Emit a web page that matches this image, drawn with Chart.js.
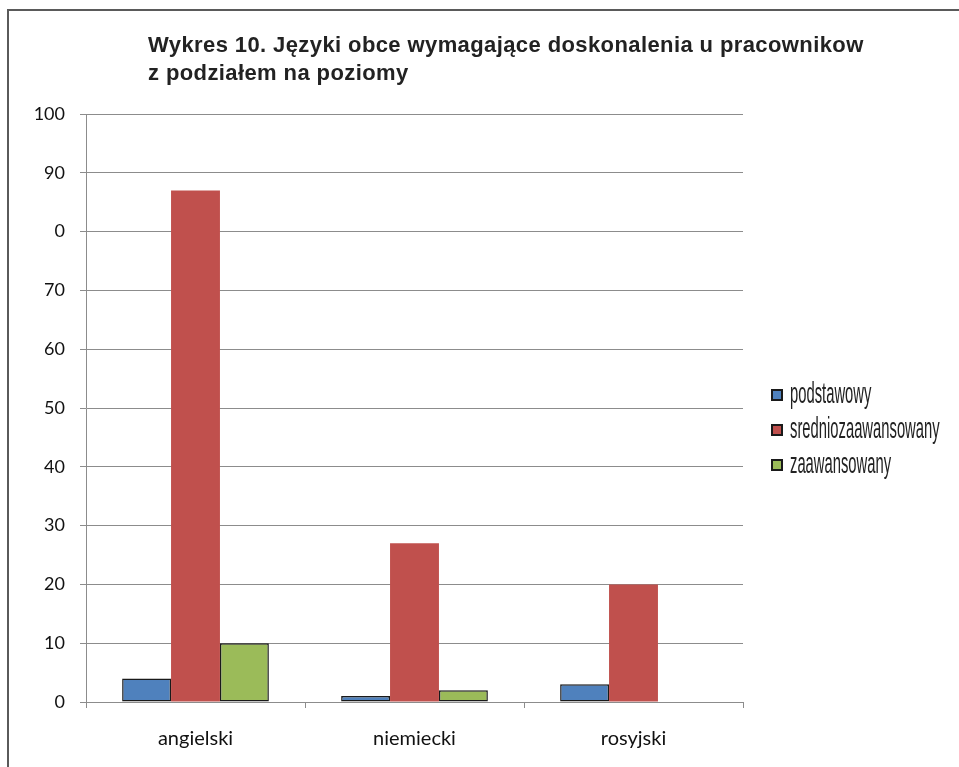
<!DOCTYPE html>
<html lang="pl">
<head>
<meta charset="utf-8">
<title>Wykres 10</title>
<script src="https://cdn.jsdelivr.net/npm/chart.js@4"></script>
<style>
    html, body { margin: 0; padding: 0; background: #fff; }
    #wrap { position: relative; width: 959px; height: 767px; overflow: hidden; }
    #frame {
        position: absolute; left: 7px; top: 9px; width: 1000px; height: 800px;
        border-left: 2px solid #5a5a5a; border-top: 2px solid #5a5a5a;
    }
    #title {
        position: absolute; left: 148px; top: 31px;
        font: bold 22px "Liberation Sans", Arial, sans-serif; letter-spacing: 0.4px;
        line-height: 28px; color: #222;
    }
    #chart { position: absolute; left: 0; top: 0; }
</style>
</head>
<body>
<div id="wrap">
    <div id="frame"></div>
    <canvas id="chart" width="959" height="767"></canvas>
    <div id="title">Wykres 10. Języki obce wymagające doskonalenia u pracownikow<br>z podziałem na poziomy</div>
</div>
<script>
// languages on the x axis
const languages = ['angielski', 'niemiecki', 'rosyjski'];

// number of employees per level
const podstawowy = [4, 1, 3];
const srednio = [87, 27, 20];
const zaawansowany = [10, 2, 0];

// y tick labels as printed in the source (the 80 mark reads "0")
const yTickLabels = ['0', '10', '20', '30', '40', '50', '60', '70', '0', '90', '100'];

const gridColor = '#8c8c8c';

// narrow legend on the right, drawn from the datasets
const sideLegend = {
    id: 'sideLegend',
    afterDraw(c) {
        const g = c.ctx;
        const left = c.chartArea.right + 29;
        const firstBaseline = 403;
        const step = 35;
        g.save();
        c.data.datasets.forEach((ds, i) => {
            const base = firstBaseline + i * step;
            g.fillStyle = ds.backgroundColor;
            g.fillRect(left, base - 13, 10, 10);
            g.strokeStyle = '#1a1a1a';
            g.lineWidth = 2;
            g.strokeRect(left, base - 13, 10, 10);

            g.save();
            g.translate(left + 18, base);
            g.scale(0.51, 1);
            g.fillStyle = '#222';
            g.font = '29px "Liberation Sans", Arial, sans-serif';
            g.textBaseline = 'alphabetic';
            g.fillText(ds.label, 0, 0);
            g.restore();
        });
        g.restore();
    }
};

const ctx = document.getElementById('chart').getContext('2d');
const chart = new Chart(ctx, {
    type: 'bar',
    data: {
        labels: languages,
        datasets: [{
            label: 'podstawowy',
            data: podstawowy,
            backgroundColor: '#4F81BD',
            borderColor: '#1a1a1a',
            borderWidth: 1.5,
            borderSkipped: false
        }, {
            label: 'sredniozaawansowany',
            data: srednio,
            backgroundColor: '#C0504D',
            borderColor: '#1a1a1a',
            borderWidth: 0
        }, {
            label: 'zaawansowany',
            data: zaawansowany,
            backgroundColor: '#9BBB59',
            borderColor: '#1a1a1a',
            borderWidth: 1.5,
            borderSkipped: false
        }]
    },
    options: {
        responsive: false,
        animation: false,
        layout: {
            padding: { top: 114, left: 0, right: 216, bottom: 0 }
        },
        datasets: {
            bar: { barPercentage: 1, categoryPercentage: 0.67 }
        },
        plugins: {
            title: { display: false },
            tooltip: { enabled: false },
            legend: { display: false }
        },
        scales: {
            x: {
                afterFit: scale => { scale.height = 65; },
                grid: {
                    offset: true,
                    drawOnChartArea: false,
                    drawTicks: true,
                    tickLength: 6,
                    color: gridColor
                },
                border: { color: gridColor },
                ticks: {
                    padding: 19,
                    color: '#111',
                    font: { family: 'Lato, sans-serif', size: 20 }
                }
            },
            y: {
                min: 0,
                max: 100,
                afterFit: scale => { scale.width = 86; },
                grid: { color: gridColor, tickLength: 6 },
                border: { color: gridColor },
                ticks: {
                    stepSize: 10,
                    padding: 15,
                    color: '#111',
                    font: { family: 'Lato, sans-serif', size: 18 },
                    callback: (value, i) => yTickLabels[i]
                }
            }
        }
    },
    plugins: [sideLegend]
});
</script>
</body>
</html>
